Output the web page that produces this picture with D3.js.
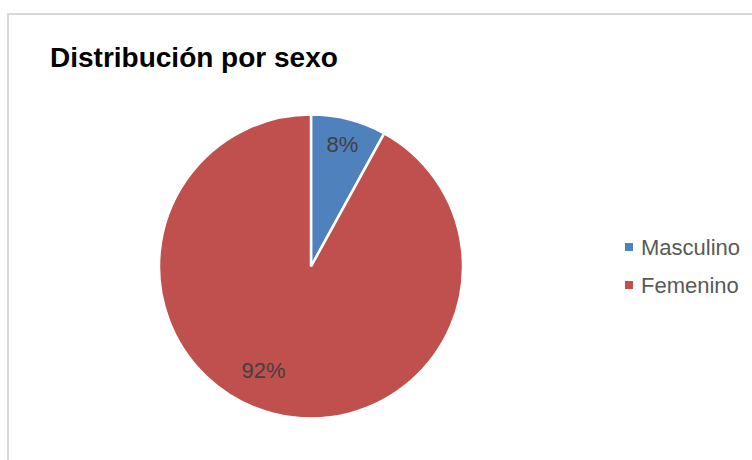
<!DOCTYPE html>
<html>
<head>
    <meta charset="utf-8">
    <title>Distribución por sexo</title>
    <script src="https://d3js.org/d3.v7.min.js"></script>
    <style>
        body { margin: 0; background: #fff; }
        text { font-family: "Liberation Sans", Arial, sans-serif; }
    </style>
</head>
<body>
    <script>
        // Data
        const categories = ["Masculino", "Femenino"];
        const values = [8, 92];
        const colors = ["#4F81BD", "#C0504D"];

        const width = 752, height = 460;

        const svg = d3.select("body")
            .append("svg")
            .attr("width", width)
            .attr("height", height);

        // Chart border (runs off the right and bottom edges)
        svg.append("rect")
            .attr("x", 8)
            .attr("y", 14)
            .attr("width", 800)
            .attr("height", 500)
            .style("fill", "none")
            .style("stroke", "#d9d9d9")
            .style("stroke-width", 2);

        // Title
        svg.append("text")
            .attr("x", 50)
            .attr("y", 67)
            .style("font-size", "28px")
            .style("font-weight", "bold")
            .style("fill", "#000")
            .text("Distribución por sexo");

        // Pie
        const radius = 152;
        const g = svg.append("g")
            .attr("transform", "translate(311,266.5)");

        const pie = d3.pie().sort(null)(values);
        const arc = d3.arc().innerRadius(0).outerRadius(radius);
        const labelArc = d3.arc().innerRadius(radius * 0.83).outerRadius(radius * 0.83);
        // best-fit nudge for the data labels, like the spreadsheet does
        const labelNudge = [[0, 0], [-16, -18]];

        g.selectAll(".slice")
            .data(pie)
            .enter()
            .append("path")
            .attr("class", "slice")
            .attr("d", arc)
            .style("fill", (d, i) => colors[i])
            .style("stroke", "#fff")
            .style("stroke-width", 2.5);

        const total = d3.sum(values);
        g.selectAll(".label")
            .data(pie)
            .enter()
            .append("text")
            .attr("class", "label")
            .attr("transform", (d, i) => {
                const c = labelArc.centroid(d);
                return `translate(${c[0] + labelNudge[i][0]},${c[1] + labelNudge[i][1]})`;
            })
            .attr("text-anchor", "middle")
            .attr("dy", "0.35em")
            .style("font-size", "22px")
            .style("fill", "#404040")
            .text(d => Math.round(d.data / total * 100) + "%");

        // Legend
        const legend = svg.selectAll(".legend")
            .data(categories)
            .enter()
            .append("g")
            .attr("class", "legend")
            .attr("transform", (d, i) => `translate(625,${247 + i * 38})`);

        legend.append("rect")
            .attr("x", 0)
            .attr("y", -4)
            .attr("width", 8)
            .attr("height", 8)
            .style("fill", (d, i) => colors[i]);

        legend.append("text")
            .attr("x", 16)
            .attr("y", 8)
            .style("font-size", "22px")
            .style("fill", "#595959")
            .text(d => d);
    </script>
</body>
</html>
